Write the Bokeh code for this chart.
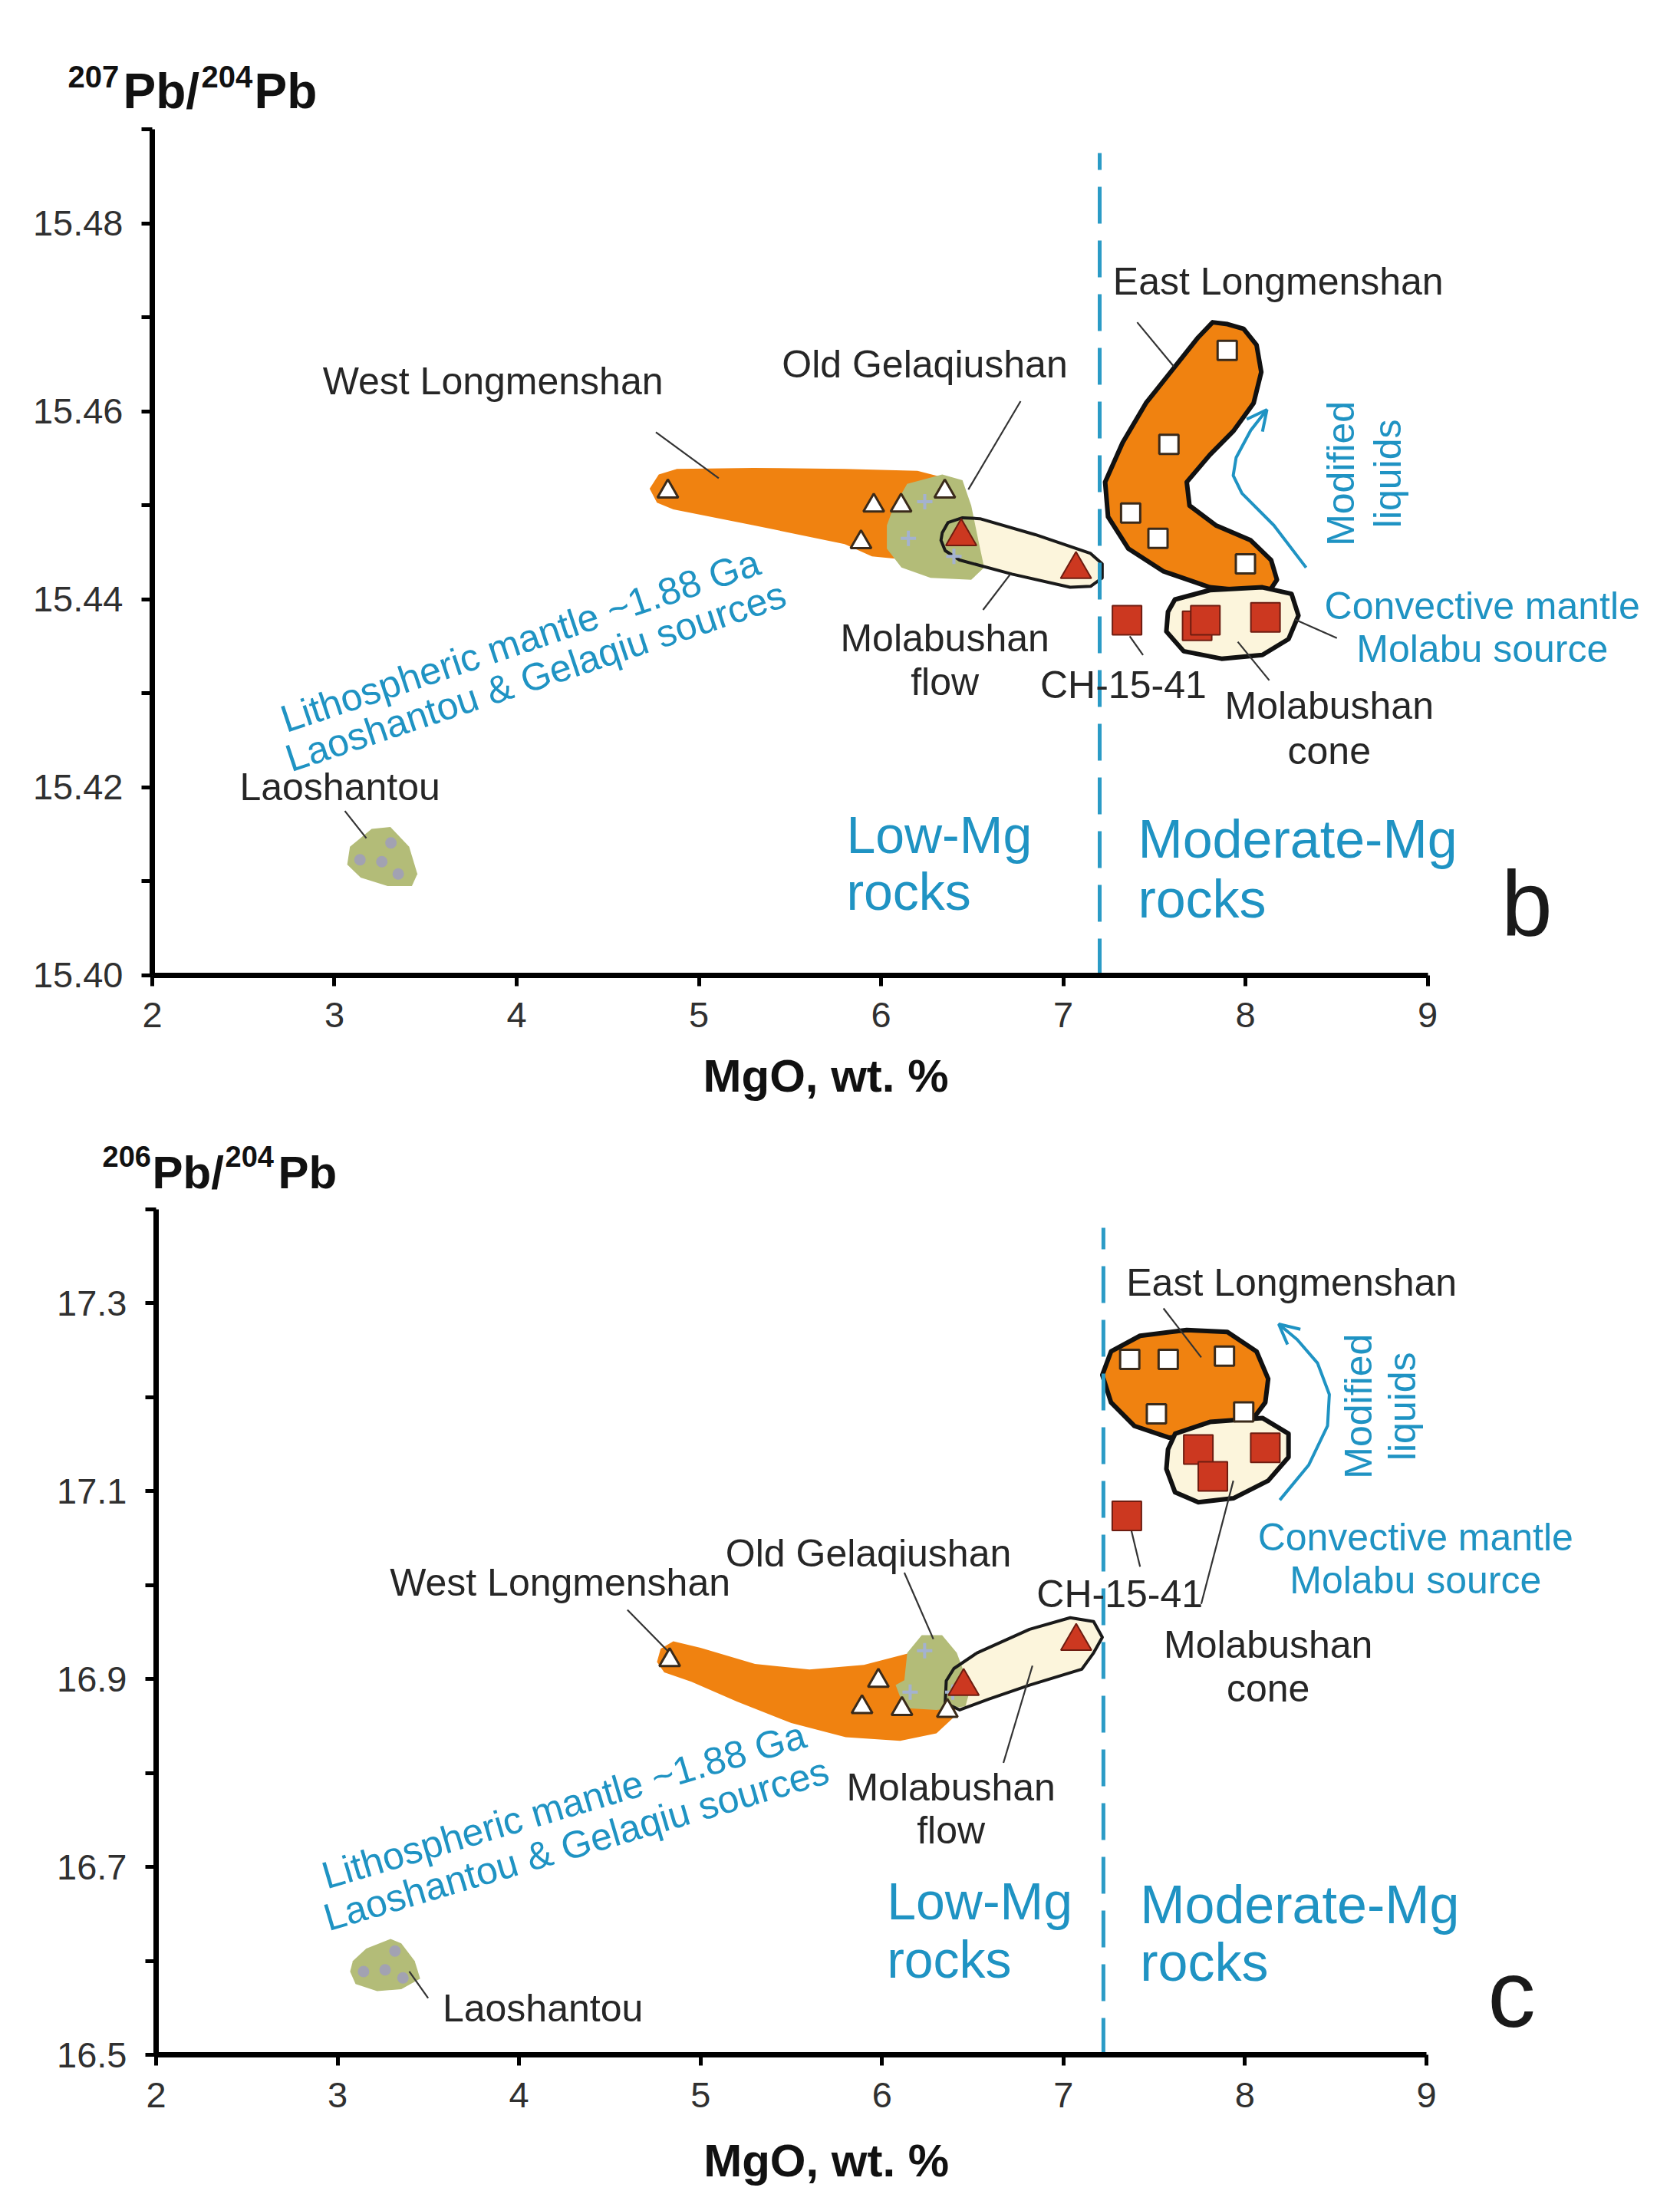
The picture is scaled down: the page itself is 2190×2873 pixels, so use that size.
from bokeh.plotting import figure
from bokeh.models import Range1d, FixedTicker, Label, Arrow, OpenHead, NumeralTickFormatter
from bokeh.layouts import column
from bokeh.embed import file_html
from bokeh.resources import INLINE

# ---------------- data: panel b (207Pb/204Pb) ----------------
x_ticks = [2, 3, 4, 5, 6, 7, 8, 9]
b_y_major = [15.40, 15.42, 15.44, 15.46, 15.48]
b_y_minor = [15.41, 15.43, 15.45, 15.47, 15.49]

b_west_tri_x = [4.83, 5.96, 6.11, 5.89, 6.35]
b_west_tri_y = [15.4515, 15.4500, 15.4500, 15.4461, 15.4515]
b_flow_tri_x = [6.44, 7.07]
b_flow_tri_y = [15.4467, 15.4432]
b_gel_x = [6.24, 6.15, 6.40]
b_gel_y = [15.4504, 15.4465, 15.4446]
b_lao_x = [3.14, 3.26, 3.31, 3.35]
b_lao_y = [15.4123, 15.4121, 15.4141, 15.4108]
b_east_sq_x = [7.90, 7.58, 7.37, 7.52, 8.00]
b_east_sq_y = [15.4665, 15.4565, 15.4492, 15.4465, 15.4438]
b_cone_sq_x = [7.735, 7.78, 8.11]
b_cone_sq_y = [15.4372, 15.4378, 15.4381]
b_ch_x = [7.35]
b_ch_y = [15.4378]
b_boundary = 7.2
b_boundary_top = 15.4875

# field outlines (b)
b_west_field_x = [4.73, 4.78, 4.88, 5.3, 5.8, 6.2, 6.38, 6.42, 6.35, 6.1, 5.95, 5.8, 5.3, 4.86, 4.77]
b_west_field_y = [15.4518, 15.4533, 15.4539, 15.4540, 15.4539, 15.4537, 15.4528, 15.4500, 15.4455, 15.4443,
                  15.4446, 15.4459, 15.4479, 15.4496, 15.4503]
b_gel_field_x = [6.064, 6.143, 6.336, 6.447, 6.495, 6.534, 6.566, 6.495, 6.272, 6.112, 6.032, 6.032]
b_gel_field_y = [15.4496, 15.4523, 15.4533, 15.4527, 15.4500, 15.4463, 15.4434, 15.4421, 15.4423, 15.4434,
                 15.4454, 15.4479]
b_flow_field_x = [6.336, 6.368, 6.447, 6.543, 6.847, 7.150, 7.214, 7.214, 7.150, 7.038, 6.719, 6.431, 6.352, 6.329]
b_flow_field_y = [15.4471, 15.4482, 15.4487, 15.4486, 15.4469, 15.4449, 15.4438, 15.4423, 15.4414, 15.4413,
                  15.4427, 15.4442, 15.4452, 15.4463]
b_east_field_x = [7.902, 7.99, 8.061, 8.087, 8.045, 7.933, 7.805, 7.678, 7.693, 7.837, 8.029, 8.141, 8.173, 8.125,
                  7.805, 7.550, 7.358, 7.246, 7.230, 7.326, 7.454, 7.614, 7.741, 7.82]
b_east_field_y = [15.4693, 15.4688, 15.4671, 15.4642, 15.4609, 15.4579, 15.4554, 15.4525, 15.4500, 15.4479,
                  15.4463, 15.4442, 15.4421, 15.4407, 15.4413, 15.4430, 15.4454, 15.4488, 15.4525, 15.4567,
                  15.4609, 15.4648, 15.4679, 15.4695]
b_cone_field_x = [7.613, 7.805, 8.093, 8.253, 8.291, 8.237, 8.093, 7.869, 7.661, 7.566, 7.575]
b_cone_field_y = [15.4400, 15.4410, 15.4413, 15.4406, 15.4383, 15.4358, 15.4341, 15.4337, 15.4345, 15.4366,
                  15.4387]
b_lao_field_x = [3.085, 3.204, 3.307, 3.41, 3.455, 3.425, 3.292, 3.144, 3.07]
b_lao_field_y = [15.4137, 15.4156, 15.4158, 15.4137, 15.4108, 15.4095, 15.4095, 15.4104, 15.4118]
b_trend_x = [8.333, 8.156, 7.981, 7.933, 7.949, 8.029, 8.118]
b_trend_y = [15.4434, 15.4479, 15.4513, 15.4532, 15.4551, 15.4580, 15.4602]
b_leader_x0 = [4.764, 6.766, 7.406, 6.56, 7.438, 8.131, 8.502, 3.057]
b_leader_y0 = [15.4578, 15.4611, 15.4695, 15.4389, 15.4341, 15.4314, 15.4359, 15.4175]
b_leader_x1 = [5.109, 6.479, 7.607, 6.71, 7.365, 7.958, 8.269, 3.175]
b_leader_y1 = [15.4529, 15.4517, 15.4648, 15.4427, 15.4361, 15.4355, 15.4379, 15.4146]

# ---------------- data: panel c (206Pb/204Pb) ----------------
c_y_major = [16.5, 16.7, 16.9, 17.1, 17.3]
c_y_minor = [16.6, 16.8, 17.0, 17.2, 17.4]

c_west_tri_x = [4.83, 5.98, 5.89, 6.11, 6.36]
c_west_tri_y = [16.920, 16.898, 16.870, 16.868, 16.866]
c_flow_tri_x = [6.45, 7.07]
c_flow_tri_y = [16.892, 16.940]
c_gel_x = [6.235, 6.155, 6.39]
c_gel_y = [16.930, 16.886, 16.886]
c_lao_x = [3.143, 3.262, 3.316, 3.360]
c_lao_y = [16.5886, 16.5904, 16.6104, 16.5818]
c_east_sq_x = [7.365, 7.577, 7.887, 7.512, 7.993]
c_east_sq_y = [17.240, 17.240, 17.2435, 17.182, 17.184]
c_cone_sq_x = [7.743, 8.112, 7.823]
c_cone_sq_y = [17.144, 17.146, 17.1155]
c_ch_x = [7.349]
c_ch_y = [17.0735]
c_boundary = 7.22
c_boundary_top = 17.38

c_west_field_x = [4.85, 5.0, 5.3, 5.6, 5.9, 6.1, 6.3, 6.42, 6.40, 6.3, 6.1, 5.8, 5.5, 5.2, 4.95, 4.8, 4.76, 4.78]
c_west_field_y = [16.940, 16.933, 16.916, 16.910, 16.915, 16.925, 16.935, 16.90, 16.860, 16.842, 16.834, 16.838,
                  16.853, 16.876, 16.897, 16.907, 16.918, 16.932]
c_gel_field_x = [6.219, 6.331, 6.412, 6.476, 6.492, 6.46, 6.300, 6.123, 6.075, 6.123, 6.139]
c_gel_field_y = [16.9465, 16.9465, 16.9277, 16.8944, 16.8934, 16.8708, 16.867, 16.8689, 16.8934, 16.8985,
                 16.9277]
c_flow_field_x = [6.396, 6.524, 6.813, 7.037, 7.166, 7.214, 7.166, 7.101, 6.813, 6.588, 6.428, 6.348, 6.354]
c_flow_field_y = [16.911, 16.9277, 16.9527, 16.9651, 16.961, 16.9443, 16.9277, 16.9103, 16.8934, 16.8784,
                  16.867, 16.8745, 16.898]
c_east_field_x = [7.262, 7.422, 7.679, 7.903, 8.064, 8.128, 8.112, 8.032, 7.807, 7.583, 7.390, 7.262, 7.214]
c_east_field_y = [17.2484, 17.2651, 17.2713, 17.2692, 17.2484, 17.2193, 17.1942, 17.1734, 17.1609, 17.1567,
                  17.1692, 17.1942, 17.2234]
c_cone_field_x = [7.615, 7.807, 8.096, 8.240, 8.240, 8.128, 7.936, 7.743, 7.615, 7.567, 7.576]
c_cone_field_y = [17.1609, 17.1734, 17.1776, 17.1609, 17.1359, 17.1109, 17.0922, 17.0880, 17.0985, 17.1234,
                  17.1443]
c_lao_field_x = [3.084, 3.158, 3.292, 3.351, 3.425, 3.455, 3.351, 3.218, 3.099, 3.069]
c_lao_field_y = [16.5998, 16.613, 16.6232, 16.6186, 16.5998, 16.581, 16.5697, 16.5678, 16.5753, 16.5886]
c_trend_x = [8.192, 8.352, 8.455, 8.465, 8.400, 8.288, 8.186]
c_trend_y = [17.0903, 17.1278, 17.1692, 17.2027, 17.2360, 17.2610, 17.2776]
c_leader_x0 = [4.597, 6.123, 7.551, 7.422, 7.759, 6.669, 3.499]
c_leader_y0 = [16.9735, 17.0131, 17.2943, 17.0193, 16.9798, 16.8106, 16.5603]
c_leader_x1 = [4.819, 6.283, 7.759, 7.365, 7.936, 6.829, 3.395]
c_leader_y1 = [16.9298, 16.9423, 17.2421, 17.0651, 17.1109, 16.9141, 16.5886]

# ---------------- styles ----------------
FONT = "Liberation Sans"
ORANGE = "#f08210"
GREEN = "#b3bc78"
CREAM = "#fcf5dc"
BLUE = "#1f93c3"
RED = "#cc3820"
DARKRED = "#6e1c10"
DARK = "#262626"
PLUS = "#a4b2cf"
LAO = "#a2a2b2"
BLACK = "#111111"


def make_fig(h, xr, yr, xb, yb, major, minor, fmt):
    p = figure(width=2174, height=h, x_range=Range1d(*xr), y_range=Range1d(*yr),
               output_backend="svg", toolbar_location=None, tools="", title=None,
               min_border_left=0, min_border_right=0, min_border_top=0, min_border_bottom=0)
    p.outline_line_color = None
    p.xgrid.visible = False
    p.ygrid.visible = False
    p.background_fill_color = "white"
    p.border_fill_color = "white"
    p.xaxis.ticker = FixedTicker(ticks=x_ticks)
    p.yaxis.ticker = FixedTicker(ticks=major, minor_ticks=minor)
    p.yaxis.formatter = NumeralTickFormatter(format=fmt)
    p.xaxis.formatter = NumeralTickFormatter(format="0")
    p.xaxis.fixed_location = yb[0]
    p.yaxis.fixed_location = xb[0]
    p.xaxis.bounds = xb
    p.yaxis.bounds = yb
    for ax in (p.xaxis, p.yaxis):
        ax.axis_line_width = 7
        ax.axis_line_color = "black"
        ax.major_tick_line_width = 5
        ax.major_tick_out = 14
        ax.major_tick_in = 0
        ax.minor_tick_line_width = 5
        ax.minor_tick_out = 14
        ax.minor_tick_in = 0
        ax.major_label_text_font = FONT
        ax.major_label_text_font_size = "47px"
        ax.major_label_text_color = "#303030"
    p.xaxis.major_label_standoff = 22
    p.yaxis.major_label_standoff = 24
    return p


def lab(p, x, y, text, size, color=DARK, align="center", angle=0, bold=False, baseline="middle"):
    p.add_layout(Label(x=x, y=y, text=text, text_font=FONT,
                       text_font_size=f"{size}px", text_color=color, text_align=align,
                       text_baseline=baseline, angle=angle, angle_units="deg",
                       text_font_style="bold" if bold else "normal"))


def draw_panel(p, d):
    p.patch(d["west_fx"], d["west_fy"], fill_color=ORANGE, line_color=None)
    p.patch(d["flow_fx"], d["flow_fy"], fill_color=CREAM, line_color=None)
    p.patch(d["gel_fx"], d["gel_fy"], fill_color=GREEN, line_color=None)
    p.patch(d["flow_fx"], d["flow_fy"], fill_color=None, line_color="#1a1a1a", line_width=4, line_join="round")
    p.patch(d["lao_fx"], d["lao_fy"], fill_color=GREEN, line_color=None)
    p.patch(d["east_fx"], d["east_fy"], fill_color=ORANGE, line_color=BLACK, line_width=6, line_join="round")
    p.patch(d["cone_fx"], d["cone_fy"], fill_color=CREAM, line_color=BLACK, line_width=6, line_join="round")
    p.segment(x0=[d["bx"]], y0=[d["y0"]], x1=[d["bx"]], y1=[d["btop"]], line_color="#2b9bc6",
              line_width=5, line_dash="48 22")
    p.segment(x0=d["lx0"], y0=d["ly0"], x1=d["lx1"], y1=d["ly1"], line_color="#333333", line_width=2.2)
    p.line(d["tx"], d["ty"], line_color=BLUE, line_width=4)
    p.add_layout(Arrow(end=OpenHead(line_color=BLUE, line_width=4, size=26), line_color=BLUE, line_width=0,
                       x_start=d["tx"][-2], y_start=d["ty"][-2], x_end=d["tx"][-1], y_end=d["ty"][-1]))
    p.scatter(d["lao_x"], d["lao_y"], marker="circle", size=15, fill_color=LAO, line_color=None)
    p.scatter(d["gel_x"], d["gel_y"], marker="cross", size=20, line_color=PLUS, line_width=4)
    p.scatter(d["west_x"], d["west_y"], marker="triangle", size=27, fill_color="white",
              line_color="#3a2a1a", line_width=3)
    p.scatter(d["flow_x"], d["flow_y"], marker="triangle", size=40, fill_color=RED,
              line_color=DARKRED, line_width=2)
    p.scatter(d["east_x"], d["east_y"], marker="square", size=25, fill_color="white",
              line_color="#3a2a1a", line_width=3)
    p.scatter(d["cone_x"], d["cone_y"], marker="square", size=38, fill_color=RED,
              line_color=DARKRED, line_width=2)
    p.scatter(d["ch_x"], d["ch_y"], marker="square", size=38, fill_color=RED,
              line_color=DARKRED, line_width=2)


# ---------------- panel b ----------------
pb = make_fig(1460, (1.166316, 10.32), (15.384571, 15.503755), (2, 9), (15.40, 15.49),
              b_y_major, b_y_minor, "0.00")
draw_panel(pb, dict(west_fx=b_west_field_x, west_fy=b_west_field_y, gel_fx=b_gel_field_x, gel_fy=b_gel_field_y,
                    flow_fx=b_flow_field_x, flow_fy=b_flow_field_y, east_fx=b_east_field_x,
                    east_fy=b_east_field_y, cone_fx=b_cone_field_x, cone_fy=b_cone_field_y,
                    lao_fx=b_lao_field_x, lao_fy=b_lao_field_y, bx=b_boundary, y0=15.40, btop=b_boundary_top,
                    lx0=b_leader_x0, ly0=b_leader_y0, lx1=b_leader_x1, ly1=b_leader_y1,
                    tx=b_trend_x, ty=b_trend_y, lao_x=b_lao_x, lao_y=b_lao_y, gel_x=b_gel_x, gel_y=b_gel_y,
                    west_x=b_west_tri_x, west_y=b_west_tri_y, flow_x=b_flow_tri_x, flow_y=b_flow_tri_y,
                    east_x=b_east_sq_x, east_y=b_east_sq_y, cone_x=b_cone_sq_x, cone_y=b_cone_sq_y,
                    ch_x=b_ch_x, ch_y=b_ch_y))

lab(pb, 3.87, 15.4632, "West Longmenshan", 50)
lab(pb, 6.24, 15.4650, "Old Gelaqiushan", 50)
lab(pb, 8.18, 15.4738, "East Longmenshan", 50)
lab(pb, 6.35, 15.4359, "Molabushan", 50)
lab(pb, 6.35, 15.4312, "flow", 50)
lab(pb, 7.33, 15.4309, "CH-15-41", 50)
lab(pb, 8.46, 15.4287, "Molabushan", 50)
lab(pb, 8.46, 15.4239, "cone", 50)
lab(pb, 3.03, 15.4200, "Laoshantou", 50)
lab(pb, 9.30, 15.4393, "Convective mantle", 50, BLUE)
lab(pb, 9.30, 15.4347, "Molabu source", 50, BLUE)
lab(pb, 8.524, 15.4534, "Modified", 50, BLUE, angle=90)
lab(pb, 8.78, 15.4534, "liquids", 50, BLUE, angle=90)
lab(pb, 4.02, 15.4356, "Lithospheric mantle ~1.88 Ga", 50, BLUE, angle=18.5)
lab(pb, 4.105, 15.4318, "Laoshantou & Gelaqiu sources", 50, BLUE, angle=18.5)
lab(pb, 5.81, 15.4150, "Low-Mg", 68, BLUE, align="left")
lab(pb, 5.81, 15.4089, "rocks", 68, BLUE, align="left")
lab(pb, 7.41, 15.4145, "Moderate-Mg", 70, BLUE, align="left")
lab(pb, 7.41, 15.4081, "rocks", 70, BLUE, align="left")
lab(pb, 9.545, 15.4077, "b", 120, "#1a1a1a")
lab(pb, 5.697, 15.389306, "MgO, wt. %", 60, BLACK, bold=True)
lab(pb, 1.536842, 15.495592, "207", 40, BLACK, align="left", bold=True, baseline="alphabetic")
lab(pb, 1.84, 15.494122, "Pb/", 64, BLACK, align="left", bold=True, baseline="alphabetic")
lab(pb, 2.269474, 15.495592, "204", 40, BLACK, align="left", bold=True, baseline="alphabetic")
lab(pb, 2.56, 15.494122, "Pb", 64, BLACK, align="left", bold=True, baseline="alphabetic")

# ---------------- panel c ----------------
pc = make_fig(1397, (1.141903, 10.331657), (16.353878, 17.494286), (2, 9), (16.5, 17.4),
              c_y_major, c_y_minor, "0.0")
draw_panel(pc, dict(west_fx=c_west_field_x, west_fy=c_west_field_y, gel_fx=c_gel_field_x, gel_fy=c_gel_field_y,
                    flow_fx=c_flow_field_x, flow_fy=c_flow_field_y, east_fx=c_east_field_x,
                    east_fy=c_east_field_y, cone_fx=c_cone_field_x, cone_fy=c_cone_field_y,
                    lao_fx=c_lao_field_x, lao_fy=c_lao_field_y, bx=c_boundary, y0=16.5, btop=c_boundary_top,
                    lx0=c_leader_x0, ly0=c_leader_y0, lx1=c_leader_x1, ly1=c_leader_y1,
                    tx=c_trend_x, ty=c_trend_y, lao_x=c_lao_x, lao_y=c_lao_y, gel_x=c_gel_x, gel_y=c_gel_y,
                    west_x=c_west_tri_x, west_y=c_west_tri_y, flow_x=c_flow_tri_x, flow_y=c_flow_tri_y,
                    east_x=c_east_sq_x, east_y=c_east_sq_y, cone_x=c_cone_sq_x, cone_y=c_cone_sq_y,
                    ch_x=c_ch_x, ch_y=c_ch_y))

lab(pc, 4.226, 17.0027, "West Longmenshan", 50)
lab(pc, 5.925, 17.0336, "Old Gelaqiushan", 50)
lab(pc, 8.257, 17.3213, "East Longmenshan", 50)
lab(pc, 6.38, 16.7842, "Molabushan", 50)
lab(pc, 6.38, 16.7390, "flow", 50)
lab(pc, 7.31, 16.9900, "CH-15-41", 50)
lab(pc, 8.128, 16.9360, "Molabushan", 50)
lab(pc, 8.128, 16.8900, "cone", 50)
lab(pc, 4.131, 16.5490, "Laoshantou", 50)
lab(pc, 8.94, 17.0505, "Convective mantle", 50, BLUE)
lab(pc, 8.94, 17.0047, "Molabu source", 50, BLUE)
lab(pc, 8.625, 17.19, "Modified", 50, BLUE, angle=90)
lab(pc, 8.866, 17.19, "liquids", 50, BLUE, angle=90)
lab(pc, 4.247, 16.7654, "Lithospheric mantle ~1.88 Ga", 50, BLUE, angle=16.5)
lab(pc, 4.315, 16.7240, "Laoshantou & Gelaqiu sources", 50, BLUE, angle=16.5)
lab(pc, 6.027, 16.6638, "Low-Mg", 68, BLUE, align="left")
lab(pc, 6.027, 16.6017, "rocks", 68, BLUE, align="left")
lab(pc, 7.422, 16.6600, "Moderate-Mg", 70, BLUE, align="left")
lab(pc, 7.422, 16.5980, "rocks", 70, BLUE, align="left")
lab(pc, 9.469, 16.5652, "c", 125, "#1a1a1a")
lab(pc, 5.693, 16.387673, "MgO, wt. %", 60, BLACK, bold=True)
lab(pc, 1.704105, 17.455918, "206", 38, BLACK, align="left", bold=True, baseline="alphabetic")
lab(pc, 1.978865, 17.438776, "Pb/", 60, BLACK, align="left", bold=True, baseline="alphabetic")
lab(pc, 2.380437, 17.455918, "204", 38, BLACK, align="left", bold=True, baseline="alphabetic")
lab(pc, 2.672106, 17.438776, "Pb", 60, BLACK, align="left", bold=True, baseline="alphabetic")

layout = column(pb, pc, spacing=0)
open("out.html", "w").write(file_html(layout, INLINE))
